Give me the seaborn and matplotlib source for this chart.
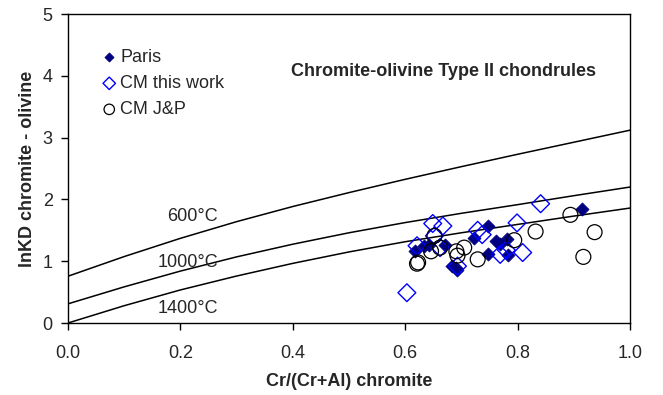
import matplotlib
matplotlib.use("Agg")
import matplotlib.pyplot as plt
import seaborn as sns
import pandas as pd
import numpy as np

# ---- data ----
curve_x = [0.0, 0.1, 0.2, 0.3, 0.4, 0.5, 0.6, 0.7, 0.8, 0.9, 1.0]
curve_600 = [0.757, 1.075, 1.37, 1.64, 1.885, 2.11, 2.325, 2.53, 2.73, 2.925, 3.12]
curve_1000 = [0.31, 0.585, 0.84, 1.07, 1.275, 1.46, 1.625, 1.775, 1.915, 2.06, 2.20]
curve_1400 = [0.0, 0.28, 0.535, 0.76, 0.965, 1.15, 1.315, 1.46, 1.595, 1.73, 1.86]

paris_x = [0.618, 0.633, 0.642, 0.670, 0.684, 0.690, 0.693, 0.722, 0.748, 0.747,
           0.761, 0.768, 0.781, 0.783, 0.914]
paris_y = [1.17, 1.24, 1.27, 1.26, 0.92, 0.89, 0.86, 1.38, 1.57, 1.11,
           1.32, 1.28, 1.36, 1.10, 1.85]

cm_x = [0.603, 0.621, 0.649, 0.667, 0.652, 0.729, 0.737, 0.769, 0.780, 0.799,
        0.809, 0.841, 0.693, 0.662]
cm_y = [0.49, 1.25, 1.61, 1.57, 1.41, 1.50, 1.43, 1.11, 1.18, 1.62,
        1.14, 1.93, 0.92, 1.22]

jp_x = [0.621, 0.623, 0.652, 0.646, 0.662, 0.691, 0.693, 0.705, 0.729, 0.794,
        0.832, 0.894, 0.937, 0.917]
jp_y = [0.96, 0.98, 1.41, 1.16, 1.22, 1.16, 1.09, 1.22, 1.03, 1.34,
        1.48, 1.75, 1.47, 1.07]

series_names = ["Paris", "CM this work", "CM J&P"]
curve_labels = ["600°C", "1000°C", "1400°C"]
x_ticks = [0.0, 0.2, 0.4, 0.6, 0.8, 1.0]
y_ticks = [0, 1, 2, 3, 4, 5]

# ---- style ----
sns.set_style("ticks")
plt.rcParams["font.family"] = ["Liberation Sans", "DejaVu Sans"]

fig = plt.figure(figsize=(6.63, 3.95), dpi=100)
ax = fig.add_axes([68 / 663, 1 - 323 / 395, (630 - 68) / 663, (323 - 14) / 395])

curves = pd.DataFrame({"x": curve_x * 3,
                       "y": curve_600 + curve_1000 + curve_1400,
                       "T": [curve_labels[0]] * 11 + [curve_labels[1]] * 11 + [curve_labels[2]] * 11})
for lab in curve_labels:
    sub = curves[curves["T"] == lab]
    sns.lineplot(data=sub, x="x", y="y", ax=ax, color="black", linewidth=1.1,
                 legend=False, sort=False)

df_p = pd.DataFrame({"x": paris_x, "y": paris_y})
df_c = pd.DataFrame({"x": cm_x, "y": cm_y})
df_j = pd.DataFrame({"x": jp_x, "y": jp_y})

sns.scatterplot(data=df_p, x="x", y="y", ax=ax, marker="D", s=45,
                color="#000080", edgecolor="#000080", linewidth=0.5,
                label=series_names[0], zorder=3)
sns.scatterplot(data=df_c, x="x", y="y", ax=ax, marker="D", s=82,
                facecolor="none", edgecolor="#0000FF", linewidth=1.0,
                label=series_names[1], zorder=4)
sns.scatterplot(data=df_j, x="x", y="y", ax=ax, marker="o", s=115,
                facecolor="none", edgecolor="black", linewidth=0.9,
                label=series_names[2], zorder=5)

ax.set_xlim(0, 1.0)
ax.set_ylim(0, 5)
ax.set_xticks(x_ticks)
ax.set_xticklabels([f"{v:.1f}" for v in x_ticks])
ax.set_yticks(y_ticks)
ax.set_yticklabels([str(v) for v in y_ticks])
ax.tick_params(axis="both", labelsize=13, length=5, width=1, color="black",
               direction="out")
ax.tick_params(axis="x", pad=11)
ax.tick_params(axis="y", pad=6)
for sp in ax.spines.values():
    sp.set_visible(True)
    sp.set_color("black")
    sp.set_linewidth(1.0)

ax.set_xlabel("Cr/(Cr+Al) chromite", fontsize=13, fontweight="bold", labelpad=8)
ax.set_ylabel("lnKD chromite - olivine", fontsize=13, fontweight="bold", labelpad=5)

ax.text(0.222, 1.72, curve_labels[0], fontsize=13, ha="center", va="center")
ax.text(0.214, 0.98, curve_labels[1], fontsize=13, ha="center", va="center")
ax.text(0.214, 0.24, curve_labels[2], fontsize=13, ha="center", va="center")

ax.text(0.669, 4.07, "Chromite-olivine Type II chondrules", fontsize=13,
        fontweight="bold", ha="center", va="center")

leg = ax.legend(loc="upper left", bbox_to_anchor=(93 / 663, 1 - 40 / 395),
                bbox_transform=fig.transFigure, frameon=False, fontsize=13,
                borderpad=0, handlelength=0.8, handletextpad=0.2,
                labelspacing=0.5, markerscale=0.7)

fig.savefig("out.png", dpi=100)
